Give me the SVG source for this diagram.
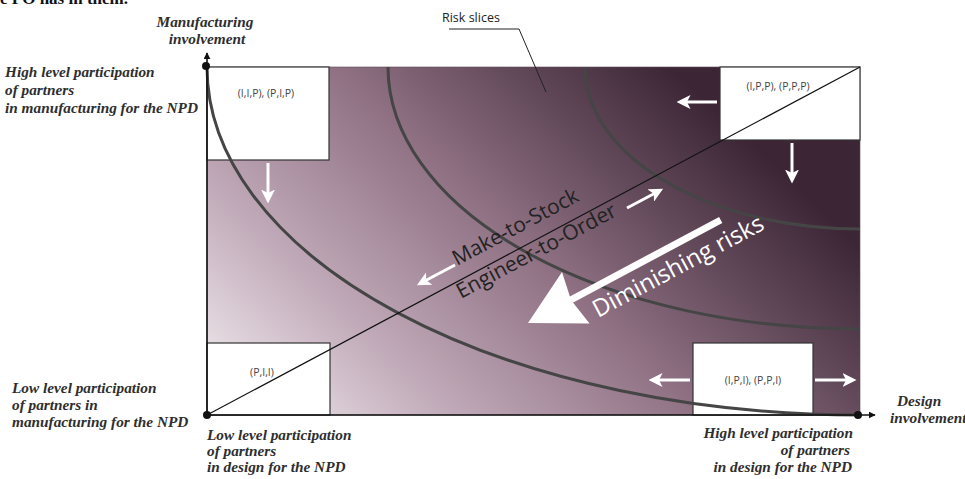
<svg xmlns="http://www.w3.org/2000/svg" width="965" height="479" viewBox="0 0 965 479">
<defs>
<linearGradient id="bg" gradientUnits="userSpaceOnUse" x1="207" y1="415" x2="600" y2="0">
<stop offset="0" stop-color="#f7f3f5"/>
<stop offset="0.3" stop-color="#c0a9b8"/>
<stop offset="0.6" stop-color="#8e7082"/>
<stop offset="0.8" stop-color="#634a5b"/>
<stop offset="1" stop-color="#3c2636"/>
</linearGradient>
<marker id="wh" viewBox="0 0 12 12" refX="9" refY="6" markerWidth="14" markerHeight="14" markerUnits="userSpaceOnUse" orient="auto">
<path d="M0,0 L12,6 L0,12 L3,6 z" fill="#ffffff"/>
</marker>
<marker id="bk" viewBox="0 0 10 10" refX="9" refY="5" markerWidth="7" markerHeight="7" markerUnits="userSpaceOnUse" orient="auto">
<path d="M0,0 L10,5 L0,10 z" fill="#111"/>
</marker>
</defs>
<style>
.lbl{font-family:"Liberation Serif","Times New Roman",serif;font-style:italic;font-weight:bold;font-size:15.3px;fill:#2e2e2e}
.box{fill:#ffffff;stroke:#333;stroke-width:1.2}
.bt{font-family:"Open Sans","Liberation Sans",sans-serif;font-size:10.5px;fill:#444;text-anchor:middle}
.curve{fill:none;stroke:#454545;stroke-width:3}
.wa{stroke:#ffffff;stroke-width:3;fill:none;marker-end:url(#wh)}
.diag{font-family:"Open Sans","Liberation Sans",sans-serif;fill:#222}
</style>
<text x="0" y="4" style="font-family:'Liberation Serif','Times New Roman',serif;font-weight:bold;font-size:17px;fill:#111">e PO has in them.</text>
<g id="field">
<rect x="207" y="67" width="653" height="348" fill="url(#bg)" stroke="#5a4a55" stroke-width="0.6"/>
</g>
<g id="box-iip">
<rect class="box" x="207" y="67" width="122" height="93"/>
<text class="bt" x="266" y="97">(I,I,P), (P,I,P)</text>
</g>
<g id="box-ipp">
<rect class="box" x="720" y="67" width="140" height="73"/>
<text class="bt" x="778" y="90">(I,P,P), (P,P,P)</text>
</g>
<g id="box-pii">
<rect class="box" x="207" y="343" width="123" height="72"/>
<text class="bt" x="262" y="376">(P,I,I)</text>
</g>
<g id="box-ipi">
<rect class="box" x="693" y="343" width="120" height="72"/>
<text class="bt" x="753" y="384">(I,P,I), (P,P,I)</text>
</g>
<g id="connectors">
<path class="curve" d="M207 67 A653 348 0 0 0 860 415"/>
<path class="curve" d="M388 67 A472 262 0 0 0 860 329"/>
<path class="curve" d="M585 67 A275 162 0 0 0 860 229"/>
<line x1="207" y1="415" x2="860" y2="67" stroke="#111" stroke-width="1.2"/>
<line x1="207" y1="415" x2="207" y2="53" stroke="#111" stroke-width="1.6" marker-end="url(#bk)"/>
<line x1="207" y1="415" x2="875" y2="415" stroke="#111" stroke-width="1.6" marker-end="url(#bk)"/>
<circle cx="206" cy="66" r="4" fill="#111"/>
<circle cx="207" cy="415" r="4" fill="#111"/>
<circle cx="858" cy="415" r="4" fill="#111"/>
<polyline points="449,29 519,29 546,92" fill="none" stroke="#222" stroke-width="1"/>
<line class="wa" x1="268" y1="163" x2="268" y2="200"/>
<line class="wa" x1="717" y1="102" x2="680" y2="102"/>
<line class="wa" x1="792" y1="143" x2="792" y2="180"/>
<line class="wa" x1="690" y1="380" x2="652" y2="380"/>
<line class="wa" x1="815" y1="380" x2="853" y2="380"/>
<line class="wa" x1="455" y1="265" x2="420" y2="283.5"/>
<line class="wa" x1="627" y1="208" x2="660" y2="190.5"/>
<line x1="720.7" y1="220" x2="565" y2="303" stroke="#ffffff" stroke-width="7"/>
<path d="M528,323 L562,272 L571,300 L589.5,323.5 z" fill="#ffffff"/>
</g>
<g id="labels">
<text class="lbl" x="205" y="27" text-anchor="middle">Manufacturing</text>
<text class="lbl" x="207" y="44" text-anchor="middle">involvement</text>
<text class="lbl" x="5" y="77">High level participation</text>
<text class="lbl" x="5" y="95">of partners</text>
<text class="lbl" x="5" y="113">in manufacturing for the NPD</text>
<text class="lbl" x="12" y="393">Low level participation</text>
<text class="lbl" x="12" y="410">of partners in</text>
<text class="lbl" x="12" y="427">manufacturing for the NPD</text>
<text class="lbl" x="207" y="440">Low level participation</text>
<text class="lbl" x="207" y="456">of partners</text>
<text class="lbl" x="207" y="472">in design for the NPD</text>
<text class="lbl" x="853" y="438" text-anchor="end">High level participation</text>
<text class="lbl" x="850" y="455" text-anchor="end">of partners</text>
<text class="lbl" x="852" y="472" text-anchor="end">in design for the NPD</text>
<text class="lbl" x="897" y="406">Design</text>
<text class="lbl" x="890" y="423">involvement</text>
<text x="442" y="22" style="font-family:'Open Sans','Liberation Sans',sans-serif;font-size:12.5px;fill:#222">Risk slices</text>
<text class="diag" font-size="21" transform="translate(457,266) rotate(-28.05)">Make-to-Stock</text>
<text class="diag" font-size="21" transform="translate(461,299) rotate(-28.05)">Engineer-to-Order</text>
<text font-family="'Open Sans','Liberation Sans',sans-serif" font-size="24" fill="#ffffff" transform="translate(598,318) rotate(-28.05)">Diminishing risks</text>
</g>
</svg>
